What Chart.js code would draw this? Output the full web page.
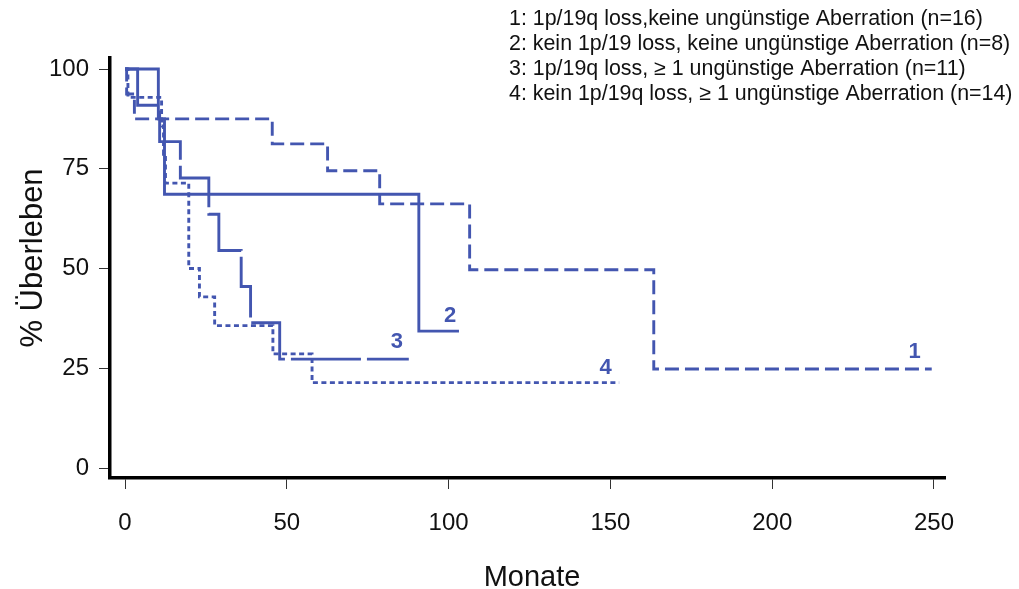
<!DOCTYPE html>
<html>
<head>
<meta charset="utf-8">
<script src="https://cdn.jsdelivr.net/npm/chart.js@4"></script>
<style>
  html, body { margin: 0; padding: 0; background: #fff; }
  #wrap { width: 1019px; height: 589px; }
</style>
</head>
<body>
<div id="wrap"><canvas id="km"></canvas></div>
<script>
// --- Daten ---
const months1 = [0, 0.5, 2.9, 45.5, 62.6, 78.7, 106.5, 163.4, 249.3];
const surv1   = [100, 93.75, 87.5, 81.25, 74.5, 66.2, 49.7, 24.8, 24.8];

const months2 = [0, 10.3, 12.2, 90.8, 103.2];
const surv2   = [100, 87.5, 68.6, 34.3, 34.3];

const months3 = [0, 3.9, 10.7, 17.1, 25.9, 29.0, 35.9, 38.8, 47.8, 87.7];
const surv3   = [100, 90.9, 81.8, 72.7, 63.6, 54.5, 45.5, 36.4, 27.3, 27.3];

const months4 = [0, 0.9, 11.3, 11.9, 12.5, 19.7, 23.0, 27.7, 45.7, 57.8, 152.7];
const surv4   = [100, 92.9, 85.7, 78.6, 71.4, 50.0, 42.9, 35.7, 28.6, 21.4, 21.4];

const groupLabels = ['1', '2', '3', '4'];
const legendLines = [
    '1: 1p/19q loss,keine ungünstige Aberration (n=16)',
    '2: kein 1p/19 loss, keine ungünstige Aberration (n=8)',
    '3: 1p/19q loss, \u2265 1 ungünstige Aberration (n=11)',
    '4: kein 1p/19q loss, \u2265 1 ungünstige Aberration (n=14)'
];
const xTicks = [0, 50, 100, 150, 200, 250];
const yTicks = [0, 25, 50, 75, 100];

// where the curve numbers sit (in data units)
const labelPos = [
    { x: 244, y: 29 },
    { x: 100.5, y: 38 },
    { x: 84, y: 31.7 },
    { x: 148.5, y: 25 }
];

const blue = '#4356b0';
const font = "'Liberation Sans', Arial, sans-serif";

function toPoints(xs, ys) {
    return xs.map((x, i) => ({ x: x, y: ys[i] }));
}

function kmSet(xs, ys, dash) {
    return {
        data: toPoints(xs, ys),
        borderColor: blue,
        borderWidth: 2.9,
        borderDash: dash,
        stepped: true,
        pointRadius: 0,
        fill: false
    };
}

// Legende, Achsentitel und Kurvennummern
const annotations = {
    id: 'annotations',
    afterDraw(chart) {
        const ctx = chart.ctx;
        const xs = chart.scales.x, ys = chart.scales.y;
        ctx.save();

        ctx.fillStyle = '#111';
        ctx.font = '21.4px ' + font;
        ctx.textAlign = 'left';
        ctx.textBaseline = 'middle';
        legendLines.forEach((t, i) => ctx.fillText(t, 509, 19 + i * 25.1));

        ctx.font = '29px ' + font;
        ctx.textAlign = 'center';
        ctx.fillText('Monate', 532, 578);

        ctx.font = '31px ' + font;
        ctx.translate(33, 258);
        ctx.rotate(-Math.PI / 2);
        ctx.fillText('% Überleben', 0, 0);
        ctx.setTransform(1, 0, 0, 1, 0, 0);

        ctx.fillStyle = blue;
        ctx.font = 'bold 22px ' + font;
        groupLabels.forEach((g, i) => {
            ctx.fillText(g, xs.getPixelForValue(labelPos[i].x), ys.getPixelForValue(labelPos[i].y));
        });
        ctx.restore();
    }
};

const ctx = document.getElementById('km');
new Chart(ctx, {
    type: 'line',
    data: {
        datasets: [
            kmSet(months1, surv1, [14, 6]),
            kmSet(months2, surv2, []),
            kmSet(months3, surv3, [70, 6]),
            kmSet(months4, surv4, [5, 3.5])
        ]
    },
    options: {
        responsive: true,
        maintainAspectRatio: false,
        animation: false,
        layout: { padding: { top: 58, right: 74, left: 0, bottom: 0 } },
        plugins: { legend: { display: false }, tooltip: { enabled: false } },
        scales: {
            x: {
                type: 'linear',
                min: -4.64,
                max: 253.4,
                afterFit: s => { s.height = 111; },
                afterBuildTicks: s => { s.ticks = xTicks.map(v => ({ value: v })); },
                border: { display: true, color: '#000', width: 3.5 },
                grid: { display: true, drawOnChartArea: false, drawTicks: true, tickLength: 11, color: '#333', lineWidth: 1 },
                ticks: { color: '#111', padding: 20, font: { family: font, size: 24 }, maxRotation: 0 }
            },
            y: {
                type: 'linear',
                min: -2.5,
                max: 102.76,
                afterFit: s => { s.width = 110; },
                afterBuildTicks: s => { s.ticks = yTicks.map(v => ({ value: v })); },
                border: { display: true, color: '#000', width: 3.5 },
                grid: { display: true, drawOnChartArea: false, drawTicks: true, tickLength: 11, color: '#333', lineWidth: 1 },
                ticks: { color: '#111', padding: 10, font: { family: font, size: 24 } }
            }
        }
    },
    plugins: [annotations]
});
</script>
</body>
</html>
